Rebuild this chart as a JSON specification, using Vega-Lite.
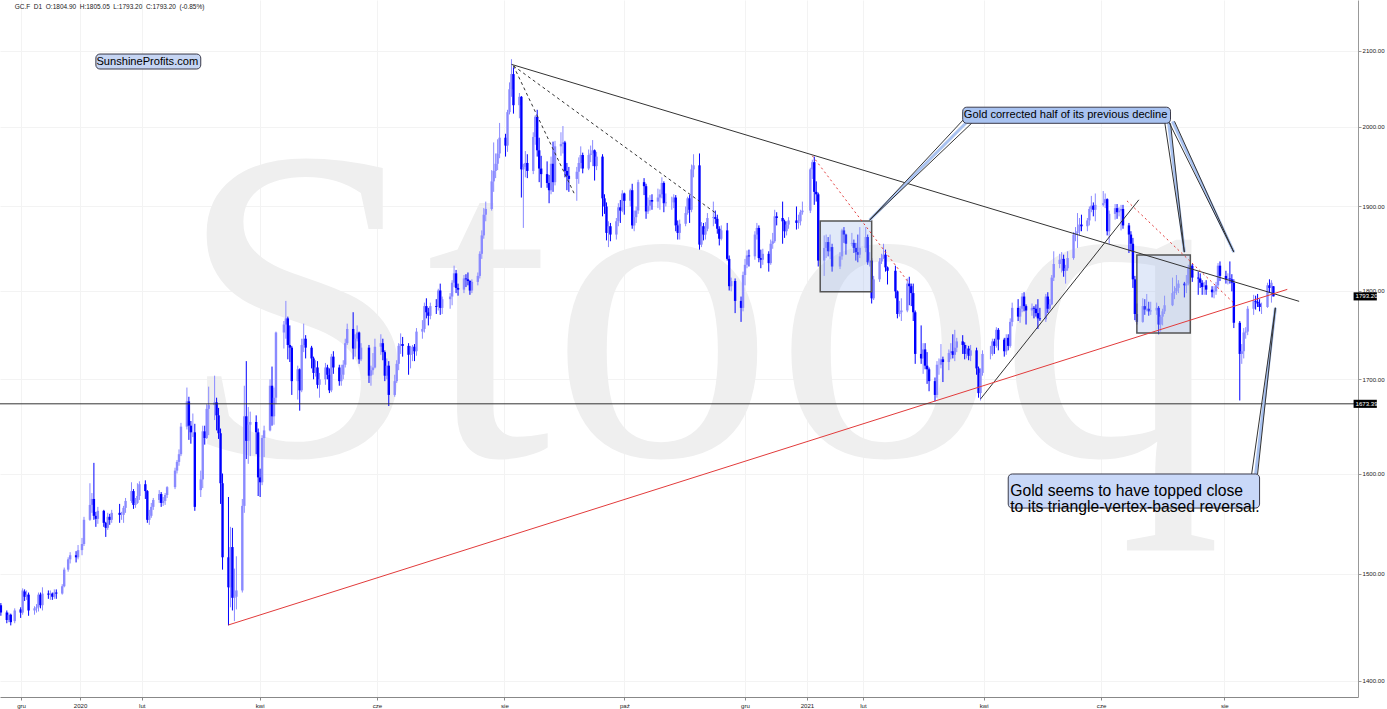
{
"$schema": "https://vega.github.io/schema/vega-lite/v6.json",
"width": 1358, "height": 697,
"autosize": {"type": "none"},
"padding": {"left": 0, "top": 0, "right": 29, "bottom": 12},
"background": "white",
"config": {"view": {"stroke": null}, "font": "Liberation Sans"},
"datasets": {
"candles": [
{"t":"2019-11-22","o":1470,"h":1472,"l":1460,"c":1463},
{"t":"2019-11-25","o":1463,"h":1465,"l":1453,"c":1456},
{"t":"2019-11-26","o":1456,"h":1463,"l":1454,"c":1461},
{"t":"2019-11-27","o":1461,"h":1462,"l":1451,"c":1454},
{"t":"2019-11-29","o":1455,"h":1467,"l":1453,"c":1465},
{"t":"2019-12-02","o":1466,"h":1468,"l":1458,"c":1463},
{"t":"2019-12-03","o":1463,"h":1486,"l":1461,"c":1484},
{"t":"2019-12-04","o":1483,"h":1485,"l":1474,"c":1478},
{"t":"2019-12-05","o":1478,"h":1484,"l":1475,"c":1480},
{"t":"2019-12-06","o":1480,"h":1482,"l":1460,"c":1465},
{"t":"2019-12-09","o":1465,"h":1469,"l":1461,"c":1467},
{"t":"2019-12-10","o":1467,"h":1471,"l":1463,"c":1468},
{"t":"2019-12-11","o":1468,"h":1482,"l":1464,"c":1480},
{"t":"2019-12-12","o":1480,"h":1482,"l":1467,"c":1470},
{"t":"2019-12-13","o":1470,"h":1487,"l":1465,"c":1481},
{"t":"2019-12-16","o":1481,"h":1484,"l":1476,"c":1480},
{"t":"2019-12-17","o":1480,"h":1484,"l":1475,"c":1481},
{"t":"2019-12-18","o":1481,"h":1482,"l":1475,"c":1478},
{"t":"2019-12-19","o":1478,"h":1485,"l":1476,"c":1482},
{"t":"2019-12-20","o":1482,"h":1485,"l":1476,"c":1481},
{"t":"2019-12-23","o":1481,"h":1490,"l":1480,"c":1488},
{"t":"2019-12-24","o":1488,"h":1506,"l":1487,"c":1504},
{"t":"2019-12-26","o":1504,"h":1516,"l":1502,"c":1514},
{"t":"2019-12-27","o":1514,"h":1521,"l":1510,"c":1518},
{"t":"2019-12-30","o":1518,"h":1522,"l":1511,"c":1516},
{"t":"2019-12-31","o":1516,"h":1528,"l":1514,"c":1523},
{"t":"2020-01-02","o":1523,"h":1535,"l":1518,"c":1529},
{"t":"2020-01-03","o":1529,"h":1556,"l":1527,"c":1553},
{"t":"2020-01-06","o":1553,"h":1590,"l":1552,"c":1568},
{"t":"2020-01-07","o":1568,"h":1580,"l":1560,"c":1574},
{"t":"2020-01-08","o":1574,"h":1611,"l":1553,"c":1557},
{"t":"2020-01-09","o":1557,"h":1561,"l":1546,"c":1554},
{"t":"2020-01-10","o":1554,"h":1566,"l":1549,"c":1562},
{"t":"2020-01-13","o":1562,"h":1563,"l":1546,"c":1550},
{"t":"2020-01-14","o":1550,"h":1551,"l":1536,"c":1545},
{"t":"2020-01-15","o":1545,"h":1560,"l":1543,"c":1556},
{"t":"2020-01-16","o":1556,"h":1559,"l":1548,"c":1553},
{"t":"2020-01-17","o":1553,"h":1563,"l":1550,"c":1560},
{"t":"2020-01-21","o":1560,"h":1569,"l":1550,"c":1558},
{"t":"2020-01-22","o":1558,"h":1561,"l":1553,"c":1558},
{"t":"2020-01-23","o":1558,"h":1567,"l":1550,"c":1565},
{"t":"2020-01-24","o":1565,"h":1575,"l":1560,"c":1572},
{"t":"2020-01-27","o":1572,"h":1591,"l":1570,"c":1582},
{"t":"2020-01-28","o":1582,"h":1584,"l":1564,"c":1568},
{"t":"2020-01-29","o":1568,"h":1575,"l":1565,"c":1570},
{"t":"2020-01-30","o":1570,"h":1590,"l":1569,"c":1577},
{"t":"2020-01-31","o":1577,"h":1592,"l":1573,"c":1589},
{"t":"2020-02-03","o":1589,"h":1593,"l":1574,"c":1582},
{"t":"2020-02-04","o":1582,"h":1583,"l":1550,"c":1553},
{"t":"2020-02-05","o":1553,"h":1563,"l":1548,"c":1557},
{"t":"2020-02-06","o":1557,"h":1570,"l":1555,"c":1566},
{"t":"2020-02-07","o":1566,"h":1575,"l":1563,"c":1573},
{"t":"2020-02-10","o":1573,"h":1583,"l":1570,"c":1579},
{"t":"2020-02-11","o":1579,"h":1581,"l":1566,"c":1570},
{"t":"2020-02-12","o":1570,"h":1576,"l":1567,"c":1572},
{"t":"2020-02-13","o":1572,"h":1580,"l":1568,"c":1578},
{"t":"2020-02-14","o":1578,"h":1587,"l":1575,"c":1586},
{"t":"2020-02-18","o":1586,"h":1606,"l":1584,"c":1603},
{"t":"2020-02-19","o":1603,"h":1614,"l":1600,"c":1612},
{"t":"2020-02-20","o":1612,"h":1625,"l":1608,"c":1620},
{"t":"2020-02-21","o":1620,"h":1653,"l":1618,"c":1649},
{"t":"2020-02-24","o":1649,"h":1691,"l":1646,"c":1676},
{"t":"2020-02-25","o":1676,"h":1681,"l":1635,"c":1650},
{"t":"2020-02-26","o":1650,"h":1655,"l":1631,"c":1643},
{"t":"2020-02-27","o":1643,"h":1663,"l":1638,"c":1643},
{"t":"2020-02-28","o":1643,"h":1652,"l":1562,"c":1566},
{"t":"2020-03-02","o":1583,"h":1603,"l":1576,"c":1594},
{"t":"2020-03-03","o":1594,"h":1650,"l":1585,"c":1644},
{"t":"2020-03-04","o":1644,"h":1650,"l":1630,"c":1637},
{"t":"2020-03-05","o":1637,"h":1673,"l":1636,"c":1668},
{"t":"2020-03-06","o":1668,"h":1692,"l":1640,"c":1672},
{"t":"2020-03-09","o":1672,"h":1704,"l":1656,"c":1675},
{"t":"2020-03-10","o":1675,"h":1680,"l":1645,"c":1661},
{"t":"2020-03-11","o":1661,"h":1669,"l":1636,"c":1642},
{"t":"2020-03-12","o":1642,"h":1647,"l":1569,"c":1590},
{"t":"2020-03-13","o":1590,"h":1600,"l":1504,"c":1516},
{"t":"2020-03-16","o":1516,"h":1576,"l":1451,"c":1487},
{"t":"2020-03-17","o":1487,"h":1546,"l":1468,"c":1526},
{"t":"2020-03-18","o":1526,"h":1545,"l":1465,"c":1477},
{"t":"2020-03-19","o":1477,"h":1505,"l":1455,"c":1478},
{"t":"2020-03-20","o":1478,"h":1517,"l":1466,"c":1484},
{"t":"2020-03-23","o":1484,"h":1574,"l":1482,"c":1567},
{"t":"2020-03-24","o":1567,"h":1693,"l":1560,"c":1660},
{"t":"2020-03-25","o":1660,"h":1720,"l":1615,"c":1634},
{"t":"2020-03-26","o":1634,"h":1670,"l":1610,"c":1651},
{"t":"2020-03-27","o":1651,"h":1665,"l":1618,"c":1654},
{"t":"2020-03-30","o":1654,"h":1661,"l":1620,"c":1643},
{"t":"2020-03-31","o":1643,"h":1647,"l":1577,"c":1596},
{"t":"2020-04-01","o":1596,"h":1605,"l":1576,"c":1591},
{"t":"2020-04-02","o":1591,"h":1640,"l":1588,"c":1637},
{"t":"2020-04-03","o":1637,"h":1650,"l":1617,"c":1645},
{"t":"2020-04-06","o":1645,"h":1700,"l":1644,"c":1693},
{"t":"2020-04-07","o":1693,"h":1714,"l":1650,"c":1660},
{"t":"2020-04-08","o":1660,"h":1691,"l":1651,"c":1680},
{"t":"2020-04-09","o":1680,"h":1753,"l":1673,"c":1752},
{"t":"2020-04-13","o":1752,"h":1765,"l":1734,"c":1761},
{"t":"2020-04-14","o":1761,"h":1788,"l":1745,"c":1768},
{"t":"2020-04-15","o":1768,"h":1770,"l":1722,"c":1738},
{"t":"2020-04-16","o":1738,"h":1760,"l":1719,"c":1735},
{"t":"2020-04-17","o":1735,"h":1737,"l":1683,"c":1698},
{"t":"2020-04-20","o":1698,"h":1715,"l":1678,"c":1711},
{"t":"2020-04-21","o":1711,"h":1712,"l":1666,"c":1688},
{"t":"2020-04-22","o":1688,"h":1745,"l":1686,"c":1738},
{"t":"2020-04-23","o":1738,"h":1762,"l":1730,"c":1745},
{"t":"2020-04-24","o":1745,"h":1749,"l":1723,"c":1735},
{"t":"2020-04-27","o":1735,"h":1737,"l":1712,"c":1723},
{"t":"2020-04-28","o":1723,"h":1725,"l":1700,"c":1707},
{"t":"2020-04-29","o":1707,"h":1721,"l":1703,"c":1713},
{"t":"2020-04-30","o":1713,"h":1720,"l":1690,"c":1694},
{"t":"2020-05-01","o":1694,"h":1707,"l":1680,"c":1700},
{"t":"2020-05-04","o":1700,"h":1718,"l":1694,"c":1713},
{"t":"2020-05-05","o":1713,"h":1716,"l":1700,"c":1705},
{"t":"2020-05-06","o":1705,"h":1712,"l":1685,"c":1688},
{"t":"2020-05-07","o":1688,"h":1728,"l":1686,"c":1725},
{"t":"2020-05-08","o":1725,"h":1731,"l":1706,"c":1713},
{"t":"2020-05-11","o":1713,"h":1716,"l":1693,"c":1698},
{"t":"2020-05-12","o":1698,"h":1716,"l":1693,"c":1705},
{"t":"2020-05-13","o":1705,"h":1721,"l":1700,"c":1716},
{"t":"2020-05-14","o":1716,"h":1745,"l":1713,"c":1740},
{"t":"2020-05-15","o":1740,"h":1762,"l":1738,"c":1756},
{"t":"2020-05-18","o":1756,"h":1775,"l":1722,"c":1734},
{"t":"2020-05-19","o":1734,"h":1750,"l":1725,"c":1745},
{"t":"2020-05-20","o":1745,"h":1760,"l":1742,"c":1752},
{"t":"2020-05-21","o":1752,"h":1753,"l":1717,"c":1722},
{"t":"2020-05-22","o":1722,"h":1740,"l":1720,"c":1735},
{"t":"2020-05-26","o":1735,"h":1738,"l":1696,"c":1704},
{"t":"2020-05-27","o":1704,"h":1715,"l":1693,"c":1710},
{"t":"2020-05-28","o":1710,"h":1729,"l":1705,"c":1713},
{"t":"2020-05-29","o":1713,"h":1745,"l":1712,"c":1736},
{"t":"2020-06-01","o":1736,"h":1750,"l":1727,"c":1740},
{"t":"2020-06-02","o":1740,"h":1745,"l":1721,"c":1730},
{"t":"2020-06-03","o":1730,"h":1732,"l":1698,"c":1704},
{"t":"2020-06-04","o":1704,"h":1723,"l":1700,"c":1715},
{"t":"2020-06-05","o":1715,"h":1720,"l":1671,"c":1683},
{"t":"2020-06-08","o":1683,"h":1705,"l":1681,"c":1698},
{"t":"2020-06-09","o":1698,"h":1721,"l":1696,"c":1717},
{"t":"2020-06-10","o":1717,"h":1740,"l":1710,"c":1737},
{"t":"2020-06-11","o":1737,"h":1751,"l":1728,"c":1739},
{"t":"2020-06-12","o":1739,"h":1747,"l":1725,"c":1737},
{"t":"2020-06-15","o":1737,"h":1740,"l":1705,"c":1727},
{"t":"2020-06-16","o":1727,"h":1737,"l":1712,"c":1728},
{"t":"2020-06-17","o":1728,"h":1738,"l":1720,"c":1736},
{"t":"2020-06-18","o":1736,"h":1739,"l":1720,"c":1731},
{"t":"2020-06-19","o":1731,"h":1757,"l":1726,"c":1753},
{"t":"2020-06-22","o":1753,"h":1766,"l":1745,"c":1756},
{"t":"2020-06-23","o":1756,"h":1786,"l":1752,"c":1782},
{"t":"2020-06-24","o":1782,"h":1791,"l":1768,"c":1775},
{"t":"2020-06-25","o":1775,"h":1780,"l":1760,"c":1771},
{"t":"2020-06-26","o":1771,"h":1786,"l":1767,"c":1782},
{"t":"2020-06-29","o":1782,"h":1790,"l":1773,"c":1781},
{"t":"2020-06-30","o":1781,"h":1802,"l":1777,"c":1800},
{"t":"2020-07-01","o":1800,"h":1808,"l":1772,"c":1780},
{"t":"2020-07-02","o":1780,"h":1793,"l":1773,"c":1790},
{"t":"2020-07-06","o":1790,"h":1797,"l":1779,"c":1793},
{"t":"2020-07-07","o":1793,"h":1812,"l":1783,"c":1809},
{"t":"2020-07-08","o":1809,"h":1829,"l":1804,"c":1820},
{"t":"2020-07-09","o":1820,"h":1824,"l":1797,"c":1803},
{"t":"2020-07-10","o":1803,"h":1808,"l":1794,"c":1801},
{"t":"2020-07-13","o":1801,"h":1818,"l":1797,"c":1814},
{"t":"2020-07-14","o":1814,"h":1819,"l":1804,"c":1813},
{"t":"2020-07-15","o":1813,"h":1821,"l":1806,"c":1811},
{"t":"2020-07-16","o":1811,"h":1812,"l":1795,"c":1800},
{"t":"2020-07-17","o":1800,"h":1813,"l":1797,"c":1810},
{"t":"2020-07-20","o":1810,"h":1821,"l":1806,"c":1817},
{"t":"2020-07-21","o":1817,"h":1846,"l":1814,"c":1843},
{"t":"2020-07-22","o":1843,"h":1871,"l":1837,"c":1865},
{"t":"2020-07-23","o":1865,"h":1898,"l":1861,"c":1890},
{"t":"2020-07-24","o":1890,"h":1906,"l":1882,"c":1897},
{"t":"2020-07-27","o":1897,"h":1945,"l":1895,"c":1931},
{"t":"2020-07-28","o":1931,"h":1980,"l":1918,"c":1944},
{"t":"2020-07-29","o":1944,"h":1966,"l":1935,"c":1953},
{"t":"2020-07-30","o":1953,"h":1984,"l":1945,"c":1966},
{"t":"2020-07-31","o":1966,"h":2005,"l":1960,"c":1986},
{"t":"2020-08-03","o":1986,"h":1991,"l":1962,"c":1976},
{"t":"2020-08-04","o":1976,"h":2022,"l":1968,"c":2019},
{"t":"2020-08-05","o":2019,"h":2058,"l":2016,"c":2049},
{"t":"2020-08-06","o":2049,"h":2089,"l":2039,"c":2069},
{"t":"2020-08-07","o":2069,"h":2078,"l":2017,"c":2028},
{"t":"2020-08-10","o":2028,"h":2044,"l":2011,"c":2039},
{"t":"2020-08-11","o":2039,"h":2040,"l":1911,"c":1946},
{"t":"2020-08-12","o":1946,"h":1953,"l":1874,"c":1949},
{"t":"2020-08-13","o":1949,"h":1969,"l":1936,"c":1954},
{"t":"2020-08-14","o":1954,"h":1965,"l":1935,"c":1944},
{"t":"2020-08-17","o":1944,"h":1993,"l":1940,"c":1987},
{"t":"2020-08-18","o":1987,"h":2015,"l":1977,"c":2013},
{"t":"2020-08-19","o":2013,"h":2022,"l":1962,"c":1970},
{"t":"2020-08-20","o":1970,"h":1986,"l":1930,"c":1947},
{"t":"2020-08-21","o":1947,"h":1963,"l":1923,"c":1940},
{"t":"2020-08-24","o":1940,"h":1956,"l":1923,"c":1929},
{"t":"2020-08-25","o":1929,"h":1939,"l":1904,"c":1920},
{"t":"2020-08-26","o":1920,"h":1962,"l":1915,"c":1953},
{"t":"2020-08-27","o":1953,"h":1981,"l":1918,"c":1930},
{"t":"2020-08-28","o":1930,"h":1982,"l":1926,"c":1975},
{"t":"2020-08-31","o":1975,"h":1993,"l":1963,"c":1978},
{"t":"2020-09-01","o":1978,"h":2001,"l":1966,"c":1980},
{"t":"2020-09-02","o":1980,"h":1982,"l":1936,"c":1944},
{"t":"2020-09-03","o":1944,"h":1954,"l":1920,"c":1938},
{"t":"2020-09-04","o":1938,"h":1949,"l":1918,"c":1934},
{"t":"2020-09-08","o":1934,"h":1949,"l":1907,"c":1943},
{"t":"2020-09-09","o":1943,"h":1961,"l":1928,"c":1954},
{"t":"2020-09-10","o":1954,"h":1975,"l":1947,"c":1964},
{"t":"2020-09-11","o":1964,"h":1967,"l":1941,"c":1947},
{"t":"2020-09-14","o":1947,"h":1971,"l":1945,"c":1964},
{"t":"2020-09-15","o":1964,"h":1976,"l":1955,"c":1966},
{"t":"2020-09-16","o":1966,"h":1983,"l":1950,"c":1970},
{"t":"2020-09-17","o":1970,"h":1971,"l":1932,"c":1950},
{"t":"2020-09-18","o":1950,"h":1968,"l":1945,"c":1962},
{"t":"2020-09-21","o":1962,"h":1965,"l":1888,"c":1910},
{"t":"2020-09-22","o":1910,"h":1915,"l":1891,"c":1900},
{"t":"2020-09-23","o":1900,"h":1905,"l":1859,"c":1868},
{"t":"2020-09-24","o":1868,"h":1882,"l":1851,"c":1876},
{"t":"2020-09-25","o":1876,"h":1880,"l":1858,"c":1866},
{"t":"2020-09-28","o":1866,"h":1886,"l":1860,"c":1882},
{"t":"2020-09-29","o":1882,"h":1904,"l":1876,"c":1899},
{"t":"2020-09-30","o":1899,"h":1908,"l":1880,"c":1895},
{"t":"2020-10-01","o":1895,"h":1920,"l":1893,"c":1916},
{"t":"2020-10-02","o":1916,"h":1917,"l":1890,"c":1907},
{"t":"2020-10-05","o":1907,"h":1922,"l":1900,"c":1920},
{"t":"2020-10-06","o":1920,"h":1928,"l":1873,"c":1877},
{"t":"2020-10-07","o":1877,"h":1895,"l":1870,"c":1887},
{"t":"2020-10-08","o":1887,"h":1900,"l":1880,"c":1895},
{"t":"2020-10-09","o":1895,"h":1933,"l":1891,"c":1930},
{"t":"2020-10-12","o":1930,"h":1935,"l":1914,"c":1925},
{"t":"2020-10-13","o":1925,"h":1928,"l":1885,"c":1894},
{"t":"2020-10-14","o":1894,"h":1911,"l":1891,"c":1901},
{"t":"2020-10-15","o":1901,"h":1914,"l":1895,"c":1908},
{"t":"2020-10-16","o":1908,"h":1915,"l":1896,"c":1906},
{"t":"2020-10-19","o":1906,"h":1922,"l":1898,"c":1911},
{"t":"2020-10-20","o":1911,"h":1921,"l":1896,"c":1915},
{"t":"2020-10-21","o":1915,"h":1936,"l":1910,"c":1929},
{"t":"2020-10-22","o":1929,"h":1931,"l":1893,"c":1904},
{"t":"2020-10-23","o":1904,"h":1916,"l":1900,"c":1905},
{"t":"2020-10-26","o":1905,"h":1912,"l":1896,"c":1905},
{"t":"2020-10-27","o":1905,"h":1915,"l":1898,"c":1911},
{"t":"2020-10-28","o":1911,"h":1914,"l":1870,"c":1877},
{"t":"2020-10-29","o":1877,"h":1883,"l":1860,"c":1868},
{"t":"2020-10-30","o":1868,"h":1884,"l":1860,"c":1879},
{"t":"2020-11-02","o":1879,"h":1900,"l":1876,"c":1892},
{"t":"2020-11-03","o":1892,"h":1912,"l":1890,"c":1910},
{"t":"2020-11-04","o":1910,"h":1914,"l":1880,"c":1896},
{"t":"2020-11-05","o":1896,"h":1952,"l":1893,"c":1946},
{"t":"2020-11-06","o":1946,"h":1965,"l":1936,"c":1951},
{"t":"2020-11-09","o":1951,"h":1966,"l":1848,"c":1854},
{"t":"2020-11-10","o":1854,"h":1881,"l":1851,"c":1876},
{"t":"2020-11-11","o":1876,"h":1880,"l":1859,"c":1866},
{"t":"2020-11-12","o":1866,"h":1881,"l":1860,"c":1873},
{"t":"2020-11-13","o":1873,"h":1892,"l":1870,"c":1886},
{"t":"2020-11-16","o":1886,"h":1906,"l":1876,"c":1887},
{"t":"2020-11-17","o":1887,"h":1895,"l":1879,"c":1885},
{"t":"2020-11-18","o":1885,"h":1890,"l":1867,"c":1873},
{"t":"2020-11-19","o":1873,"h":1876,"l":1853,"c":1861},
{"t":"2020-11-20","o":1861,"h":1877,"l":1859,"c":1871},
{"t":"2020-11-23","o":1871,"h":1880,"l":1835,"c":1837},
{"t":"2020-11-24","o":1837,"h":1841,"l":1800,"c":1805},
{"t":"2020-11-25","o":1805,"h":1815,"l":1799,"c":1811},
{"t":"2020-11-27","o":1811,"h":1814,"l":1774,"c":1788},
{"t":"2020-11-30","o":1788,"h":1793,"l":1764,"c":1780},
{"t":"2020-12-01","o":1780,"h":1822,"l":1776,"c":1818},
{"t":"2020-12-02","o":1818,"h":1837,"l":1806,"c":1830},
{"t":"2020-12-03","o":1830,"h":1847,"l":1826,"c":1841},
{"t":"2020-12-04","o":1841,"h":1848,"l":1828,"c":1840},
{"t":"2020-12-07","o":1840,"h":1870,"l":1836,"c":1866},
{"t":"2020-12-08","o":1866,"h":1880,"l":1860,"c":1874},
{"t":"2020-12-09","o":1874,"h":1877,"l":1833,"c":1838},
{"t":"2020-12-10","o":1838,"h":1848,"l":1826,"c":1836},
{"t":"2020-12-11","o":1836,"h":1849,"l":1830,"c":1843},
{"t":"2020-12-14","o":1843,"h":1846,"l":1822,"c":1832},
{"t":"2020-12-15","o":1832,"h":1860,"l":1830,"c":1855},
{"t":"2020-12-16","o":1855,"h":1868,"l":1849,"c":1858},
{"t":"2020-12-17","o":1858,"h":1896,"l":1856,"c":1888},
{"t":"2020-12-18","o":1888,"h":1893,"l":1877,"c":1886},
{"t":"2020-12-21","o":1886,"h":1906,"l":1855,"c":1882},
{"t":"2020-12-22","o":1882,"h":1884,"l":1862,"c":1870},
{"t":"2020-12-23","o":1870,"h":1882,"l":1865,"c":1878},
{"t":"2020-12-24","o":1878,"h":1887,"l":1873,"c":1883},
{"t":"2020-12-28","o":1883,"h":1900,"l":1872,"c":1880},
{"t":"2020-12-29","o":1880,"h":1890,"l":1873,"c":1882},
{"t":"2020-12-30","o":1882,"h":1896,"l":1877,"c":1893},
{"t":"2020-12-31","o":1893,"h":1906,"l":1890,"c":1895},
{"t":"2021-01-04","o":1895,"h":1948,"l":1892,"c":1946},
{"t":"2021-01-05","o":1946,"h":1958,"l":1934,"c":1955},
{"t":"2021-01-06","o":1955,"h":1962,"l":1902,"c":1918},
{"t":"2021-01-07","o":1918,"h":1931,"l":1906,"c":1915},
{"t":"2021-01-08","o":1915,"h":1917,"l":1828,"c":1835},
{"t":"2021-01-11","o":1835,"h":1865,"l":1817,"c":1850},
{"t":"2021-01-12","o":1850,"h":1866,"l":1838,"c":1857},
{"t":"2021-01-13","o":1857,"h":1863,"l":1840,"c":1846},
{"t":"2021-01-14","o":1846,"h":1866,"l":1837,"c":1851},
{"t":"2021-01-15","o":1851,"h":1855,"l":1822,"c":1828},
{"t":"2021-01-19","o":1828,"h":1845,"l":1825,"c":1840},
{"t":"2021-01-20","o":1840,"h":1873,"l":1836,"c":1871},
{"t":"2021-01-21","o":1871,"h":1875,"l":1856,"c":1866},
{"t":"2021-01-22","o":1866,"h":1867,"l":1842,"c":1855},
{"t":"2021-01-25","o":1855,"h":1868,"l":1852,"c":1856},
{"t":"2021-01-26","o":1856,"h":1860,"l":1844,"c":1850},
{"t":"2021-01-27","o":1850,"h":1856,"l":1835,"c":1845},
{"t":"2021-01-28","o":1845,"h":1866,"l":1833,"c":1842},
{"t":"2021-01-29","o":1842,"h":1875,"l":1838,"c":1850},
{"t":"2021-02-01","o":1850,"h":1875,"l":1845,"c":1863},
{"t":"2021-02-02","o":1863,"h":1866,"l":1830,"c":1833},
{"t":"2021-02-03","o":1833,"h":1845,"l":1828,"c":1835},
{"t":"2021-02-04","o":1835,"h":1838,"l":1785,"c":1791},
{"t":"2021-02-05","o":1791,"h":1817,"l":1789,"c":1813},
{"t":"2021-02-08","o":1813,"h":1838,"l":1810,"c":1834},
{"t":"2021-02-09","o":1834,"h":1843,"l":1831,"c":1838},
{"t":"2021-02-10","o":1838,"h":1855,"l":1837,"c":1842},
{"t":"2021-02-11","o":1842,"h":1848,"l":1822,"c":1827},
{"t":"2021-02-12","o":1827,"h":1828,"l":1807,"c":1823},
{"t":"2021-02-16","o":1823,"h":1829,"l":1791,"c":1799},
{"t":"2021-02-17","o":1799,"h":1800,"l":1768,"c":1773},
{"t":"2021-02-18","o":1773,"h":1788,"l":1770,"c":1775},
{"t":"2021-02-19","o":1775,"h":1791,"l":1765,"c":1777},
{"t":"2021-02-22","o":1777,"h":1814,"l":1775,"c":1808},
{"t":"2021-02-23","o":1808,"h":1816,"l":1783,"c":1805},
{"t":"2021-02-24","o":1805,"h":1808,"l":1782,"c":1797},
{"t":"2021-02-25","o":1797,"h":1808,"l":1765,"c":1775},
{"t":"2021-02-26","o":1775,"h":1777,"l":1717,"c":1728},
{"t":"2021-03-01","o":1728,"h":1760,"l":1717,"c":1723},
{"t":"2021-03-02","o":1723,"h":1740,"l":1706,"c":1733},
{"t":"2021-03-03","o":1733,"h":1740,"l":1711,"c":1715},
{"t":"2021-03-04","o":1715,"h":1730,"l":1695,"c":1711},
{"t":"2021-03-05","o":1711,"h":1713,"l":1687,"c":1698},
{"t":"2021-03-08","o":1698,"h":1702,"l":1676,"c":1683},
{"t":"2021-03-09","o":1683,"h":1720,"l":1680,"c":1716},
{"t":"2021-03-10","o":1716,"h":1723,"l":1705,"c":1716},
{"t":"2021-03-11","o":1716,"h":1739,"l":1712,"c":1722},
{"t":"2021-03-12","o":1722,"h":1725,"l":1697,"c":1719},
{"t":"2021-03-15","o":1719,"h":1733,"l":1710,"c":1729},
{"t":"2021-03-16","o":1729,"h":1740,"l":1722,"c":1731},
{"t":"2021-03-17","o":1731,"h":1750,"l":1723,"c":1727},
{"t":"2021-03-18","o":1727,"h":1755,"l":1720,"c":1735},
{"t":"2021-03-19","o":1735,"h":1746,"l":1730,"c":1742},
{"t":"2021-03-22","o":1742,"h":1749,"l":1728,"c":1738},
{"t":"2021-03-23","o":1738,"h":1741,"l":1722,"c":1728},
{"t":"2021-03-24","o":1728,"h":1738,"l":1723,"c":1734},
{"t":"2021-03-25","o":1734,"h":1737,"l":1721,"c":1726},
{"t":"2021-03-26","o":1726,"h":1738,"l":1720,"c":1732},
{"t":"2021-03-29","o":1732,"h":1735,"l":1705,"c":1712},
{"t":"2021-03-30","o":1712,"h":1714,"l":1680,"c":1685},
{"t":"2021-03-31","o":1685,"h":1712,"l":1677,"c":1707},
{"t":"2021-04-01","o":1707,"h":1732,"l":1704,"c":1728},
{"t":"2021-04-05","o":1728,"h":1737,"l":1722,"c":1728},
{"t":"2021-04-06","o":1728,"h":1745,"l":1726,"c":1742},
{"t":"2021-04-07","o":1742,"h":1745,"l":1728,"c":1737},
{"t":"2021-04-08","o":1737,"h":1758,"l":1735,"c":1755},
{"t":"2021-04-09","o":1755,"h":1757,"l":1732,"c":1744},
{"t":"2021-04-12","o":1744,"h":1746,"l":1725,"c":1731},
{"t":"2021-04-13","o":1731,"h":1750,"l":1727,"c":1746},
{"t":"2021-04-14","o":1746,"h":1750,"l":1732,"c":1737},
{"t":"2021-04-15","o":1737,"h":1768,"l":1735,"c":1764},
{"t":"2021-04-16","o":1764,"h":1786,"l":1759,"c":1780},
{"t":"2021-04-19","o":1780,"h":1790,"l":1765,"c":1770},
{"t":"2021-04-20","o":1770,"h":1782,"l":1763,"c":1779},
{"t":"2021-04-21","o":1779,"h":1797,"l":1775,"c":1793},
{"t":"2021-04-22","o":1793,"h":1798,"l":1776,"c":1782},
{"t":"2021-04-23","o":1782,"h":1784,"l":1761,"c":1777},
{"t":"2021-04-26","o":1777,"h":1785,"l":1771,"c":1780},
{"t":"2021-04-27","o":1780,"h":1782,"l":1768,"c":1779},
{"t":"2021-04-28","o":1779,"h":1784,"l":1770,"c":1774},
{"t":"2021-04-29","o":1774,"h":1790,"l":1756,"c":1768},
{"t":"2021-04-30","o":1768,"h":1780,"l":1765,"c":1767},
{"t":"2021-05-03","o":1767,"h":1796,"l":1764,"c":1793},
{"t":"2021-05-04","o":1793,"h":1798,"l":1774,"c":1779},
{"t":"2021-05-05","o":1779,"h":1790,"l":1777,"c":1784},
{"t":"2021-05-06","o":1784,"h":1818,"l":1783,"c":1815},
{"t":"2021-05-07","o":1815,"h":1846,"l":1811,"c":1831},
{"t":"2021-05-10","o":1831,"h":1843,"l":1826,"c":1836},
{"t":"2021-05-11","o":1836,"h":1845,"l":1821,"c":1837},
{"t":"2021-05-12","o":1837,"h":1842,"l":1816,"c":1823},
{"t":"2021-05-13","o":1823,"h":1830,"l":1808,"c":1826},
{"t":"2021-05-14","o":1826,"h":1846,"l":1823,"c":1838},
{"t":"2021-05-17","o":1838,"h":1869,"l":1836,"c":1866},
{"t":"2021-05-18","o":1866,"h":1875,"l":1858,"c":1868},
{"t":"2021-05-19","o":1868,"h":1892,"l":1850,"c":1870},
{"t":"2021-05-20","o":1870,"h":1886,"l":1865,"c":1878},
{"t":"2021-05-21","o":1878,"h":1890,"l":1870,"c":1876},
{"t":"2021-05-24","o":1876,"h":1886,"l":1870,"c":1883},
{"t":"2021-05-25","o":1883,"h":1900,"l":1877,"c":1897},
{"t":"2021-05-26","o":1897,"h":1913,"l":1893,"c":1901},
{"t":"2021-05-27","o":1901,"h":1905,"l":1888,"c":1896},
{"t":"2021-05-28","o":1896,"h":1916,"l":1882,"c":1902},
{"t":"2021-06-01","o":1902,"h":1919,"l":1900,"c":1904},
{"t":"2021-06-02","o":1904,"h":1916,"l":1898,"c":1909},
{"t":"2021-06-03","o":1909,"h":1910,"l":1865,"c":1870},
{"t":"2021-06-04","o":1870,"h":1895,"l":1855,"c":1891},
{"t":"2021-06-07","o":1891,"h":1903,"l":1884,"c":1898},
{"t":"2021-06-08","o":1898,"h":1903,"l":1885,"c":1893},
{"t":"2021-06-09","o":1893,"h":1899,"l":1888,"c":1895},
{"t":"2021-06-10","o":1895,"h":1902,"l":1871,"c":1897},
{"t":"2021-06-11","o":1897,"h":1902,"l":1873,"c":1877},
{"t":"2021-06-14","o":1877,"h":1880,"l":1844,"c":1866},
{"t":"2021-06-15","o":1866,"h":1870,"l":1846,"c":1855},
{"t":"2021-06-16","o":1855,"h":1862,"l":1803,"c":1813},
{"t":"2021-06-17","o":1813,"h":1817,"l":1766,"c":1773},
{"t":"2021-06-18","o":1773,"h":1785,"l":1761,"c":1764},
{"t":"2021-06-21","o":1764,"h":1791,"l":1763,"c":1782},
{"t":"2021-06-22","o":1782,"h":1790,"l":1772,"c":1778},
{"t":"2021-06-23","o":1778,"h":1796,"l":1776,"c":1779},
{"t":"2021-06-24","o":1779,"h":1787,"l":1771,"c":1776},
{"t":"2021-06-25","o":1776,"h":1787,"l":1772,"c":1777},
{"t":"2021-06-28","o":1777,"h":1786,"l":1772,"c":1780},
{"t":"2021-06-29","o":1780,"h":1782,"l":1750,"c":1761},
{"t":"2021-06-30","o":1761,"h":1772,"l":1753,"c":1770},
{"t":"2021-07-01","o":1770,"h":1779,"l":1760,"c":1776},
{"t":"2021-07-02","o":1776,"h":1794,"l":1773,"c":1783},
{"t":"2021-07-06","o":1783,"h":1815,"l":1782,"c":1797},
{"t":"2021-07-07","o":1797,"h":1805,"l":1790,"c":1799},
{"t":"2021-07-08","o":1799,"h":1818,"l":1795,"c":1803},
{"t":"2021-07-09","o":1803,"h":1812,"l":1797,"c":1808},
{"t":"2021-07-12","o":1808,"h":1810,"l":1792,"c":1806},
{"t":"2021-07-13","o":1806,"h":1818,"l":1797,"c":1808},
{"t":"2021-07-14","o":1808,"h":1830,"l":1806,"c":1826},
{"t":"2021-07-15","o":1826,"h":1834,"l":1819,"c":1829},
{"t":"2021-07-16","o":1829,"h":1831,"l":1810,"c":1815},
{"t":"2021-07-19","o":1815,"h":1822,"l":1795,"c":1814},
{"t":"2021-07-20","o":1814,"h":1820,"l":1803,"c":1809},
{"t":"2021-07-21","o":1809,"h":1812,"l":1795,"c":1804},
{"t":"2021-07-22","o":1804,"h":1810,"l":1795,"c":1806},
{"t":"2021-07-23","o":1806,"h":1812,"l":1795,"c":1801},
{"t":"2021-07-26","o":1801,"h":1805,"l":1792,"c":1798},
{"t":"2021-07-27","o":1798,"h":1805,"l":1791,"c":1799},
{"t":"2021-07-28","o":1799,"h":1810,"l":1795,"c":1806},
{"t":"2021-07-29","o":1806,"h":1832,"l":1803,"c":1829},
{"t":"2021-07-30","o":1829,"h":1834,"l":1811,"c":1817},
{"t":"2021-08-02","o":1817,"h":1823,"l":1808,"c":1813},
{"t":"2021-08-03","o":1813,"h":1820,"l":1807,"c":1814},
{"t":"2021-08-04","o":1814,"h":1834,"l":1808,"c":1813},
{"t":"2021-08-05","o":1813,"h":1819,"l":1799,"c":1809},
{"t":"2021-08-06","o":1809,"h":1813,"l":1757,"c":1763},
{"t":"2021-08-09","o":1763,"h":1765,"l":1677,"c":1728},
{"t":"2021-08-10","o":1728,"h":1739,"l":1717,"c":1731},
{"t":"2021-08-11","o":1731,"h":1757,"l":1723,"c":1752},
{"t":"2021-08-12","o":1752,"h":1758,"l":1745,"c":1753},
{"t":"2021-08-13","o":1753,"h":1782,"l":1749,"c":1779},
{"t":"2021-08-16","o":1779,"h":1795,"l":1772,"c":1788},
{"t":"2021-08-17","o":1788,"h":1794,"l":1778,"c":1787},
{"t":"2021-08-18","o":1787,"h":1796,"l":1781,"c":1785},
{"t":"2021-08-19","o":1785,"h":1790,"l":1776,"c":1781},
{"t":"2021-08-20","o":1781,"h":1786,"l":1773,"c":1781},
{"t":"2021-08-23","o":1781,"h":1809,"l":1780,"c":1806},
{"t":"2021-08-24","o":1806,"h":1813,"l":1797,"c":1803},
{"t":"2021-08-25","o":1803,"h":1812,"l":1786,"c":1809},
{"t":"2021-08-26","o":1804.9,"h":1805.05,"l":1793.2,"c":1793.2}
],
"lines": [
{"g":"bs","x1":"2020-08-06","p1":2082,"x2":"2021-09-08","p2":1787.5},
{"g":"bd","x1":"2020-08-07","p1":2080,"x2":"2020-09-07","p2":1914.4},
{"g":"bd","x1":"2020-08-07","p1":2080,"x2":"2020-11-17","p2":1892.3},
{"g":"rs","x1":"2020-03-16","p1":1451.4,"x2":"2021-09-02","p2":1801.3},
{"g":"bs","x1":"2021-03-31","p1":1678.6,"x2":"2021-06-19","p2":1908.2},
{"g":"rd","x1":"2021-01-05","p1":1963.1,"x2":"2021-02-23","p2":1808.2},
{"g":"rd","x1":"2021-06-13","p1":1906.9,"x2":"2021-08-06","p2":1785.5}
],
"zones": [
{"x1":"2021-01-09","x2":"2021-02-04","p1":1798.6,"p2":1882.3},
{"x1":"2021-06-18","x2":"2021-07-15","p1":1751.4,"p2":1841.5}
],
"pointers": [
{"part":"fill","x1":"2021-03-25","p1":2008.4,"x2":"2021-02-03","p2":1883.5},
{"part":"fill","x1":"2021-07-04","p1":2005.8,"x2":"2021-07-12","p2":1845.0},
{"part":"fill","x1":"2021-07-06","p1":2007.1,"x2":"2021-08-06","p2":1845.0},
{"part":"fill","x1":"2021-08-17","p1":1599.5,"x2":"2021-08-27","p2":1780.1},
{"part":"edge","x1":"2021-03-23","p1":2011.0,"x2":"2021-02-03","p2":1883.5},
{"part":"edge","x1":"2021-03-27","p1":2005.8,"x2":"2021-02-03","p2":1883.5},
{"part":"edge","x1":"2021-07-02","p1":2007.1,"x2":"2021-07-12","p2":1845.0},
{"part":"edge","x1":"2021-07-05","p1":2004.5,"x2":"2021-07-12","p2":1845.0},
{"part":"edge","x1":"2021-07-04","p1":2007.1,"x2":"2021-08-06","p2":1845.0},
{"part":"edge","x1":"2021-07-07","p1":2007.1,"x2":"2021-08-06","p2":1845.0},
{"part":"edge","x1":"2021-08-15","p1":1599.5,"x2":"2021-08-27","p2":1780.1},
{"part":"edge","x1":"2021-08-18","p1":1599.5,"x2":"2021-08-27","p2":1780.1}
],
"boxes": [
{"id":"site","x1":"2020-01-09","x2":"2020-03-02","p1":2075.8,"p2":2095.9},
{"id":"half","x1":"2021-03-22","x2":"2021-07-05","p1":2004.5,"p2":2025.4},
{"id":"top","x1":"2021-04-14","x2":"2021-08-19","p1":1564.8,"p2":1599.5}
],
"labels": [
{"id":"site","t":"2020-02-04","p":2085.8,"txt":"SunshineProfits.com"},
{"id":"half","t":"2021-05-13","p":2014.9,"txt":"Gold corrected half of its previous decline"}
],
"bigLabel": [
{"t":"2021-04-15","p":1582.0,"txt":"Gold seems to have topped close\nto its triangle-vertex-based reversal."}
],
"priceTags": [
{"p":1793.2,"lab":"1793.20"},
{"p":1673.39,"lab":"1673.39"}
]
},
"layer": [
{
"data": {"values": [{"w": "Stooq"}]},
"mark": {"type": "text", "font": "Liberation Serif", "fontSize": 448, "align": "center", "baseline": "alphabetic", "color": "#efefef"},
"encoding": {
"text": {"field": "w"},
"x": {"datum": {"year": 2020, "month": 11, "date": 9}, "type": "temporal",
"scale": {"domain": [{"year": 2019, "month": 11, "date": 24, "hours": 2}, {"year": 2021, "month": 10, "date": 5, "hours": 5}], "nice": false},
"axis": {"title": null, "grid": true, "gridColor": "#f3f3f3", "tickSize": 3, "labelFontSize": 6.1, "labelColor": "#222", "domainColor": "#888", "tickColor": "#888", "labelPadding": 2, "labelOverlap": false, "labelFlush": false,
"values": [{"year":2019,"month":12,"date":2,"hours":5},{"year":2020,"month":1,"date":1},{"year":2020,"month":2,"date":1,"hours":5},{"year":2020,"month":3,"date":31,"hours":19},{"year":2020,"month":5,"date":30,"hours":1},{"year":2020,"month":8,"date":2,"hours":10},{"year":2020,"month":10,"date":2},{"year":2020,"month":12,"date":2},{"year":2021,"month":1,"date":2,"hours":7},{"year":2021,"month":1,"date":30,"hours":14},{"year":2021,"month":4,"date":1,"hours":14},{"year":2021,"month":5,"date":30,"hours":22},{"year":2021,"month":8,"date":1,"hours":5}],
"labelExpr": "month(time(datum.value) + 345600000) == 0 ? '' + year(time(datum.value) + 345600000) : ['sty','lut','mar','kwi','maj','cze','lip','sie','wrz','paź','lis','gru'][month(time(datum.value) + 345600000)]"}},
"y": {"datum": 1619, "type": "quantitative",
"scale": {"type": "log", "domain": [1390.1, 2163.1], "nice": false},
"axis": {"orient": "right", "title": null, "grid": true, "gridColor": "#f3f3f3", "format": ".2f", "values": [1400, 1500, 1600, 1700, 1800, 1900, 2000, 2100], "tickSize": 3, "labelFontSize": 6.1, "labelColor": "#222", "domainColor": "#999", "tickColor": "#999", "labelPadding": 1, "labelFlush": false}}
}
},
{
"data": {"name": "candles"},
"mark": {"type": "rule", "strokeWidth": 1},
"encoding": {
"x": {"field": "t", "type": "temporal"},
"y": {"field": "l", "type": "quantitative"},
"y2": {"field": "h"},
"color": {"condition": {"test": "datum.c < datum.o", "value": "#0000ff"}, "value": "#8a8aff"}
}
},
{
"data": {"name": "candles"},
"mark": {"type": "bar"},
"encoding": {
"x": {"field": "t", "type": "temporal"},
"y": {"field": "o", "type": "quantitative"},
"y2": {"field": "c"},
"size": {"value": 2.4},
"color": {"condition": {"test": "datum.c < datum.o", "value": "#0000ff"}, "value": "#8a8aff"}
}
},
{
"data": {"name": "zones"},
"mark": {"type": "rect", "fill": "#9db6ea", "fillOpacity": 0.3, "stroke": "#555", "strokeWidth": 1.5},
"encoding": {
"x": {"field": "x1", "type": "temporal"}, "x2": {"field": "x2"},
"y": {"field": "p1", "type": "quantitative"}, "y2": {"field": "p2"}
}
},
{
"data": {"name": "lines"},
"transform": [{"filter": "datum.g == 'bs'"}],
"mark": {"type": "rule", "color": "#333", "strokeWidth": 1},
"encoding": {
"x": {"field": "x1", "type": "temporal"}, "x2": {"field": "x2"},
"y": {"field": "p1", "type": "quantitative"}, "y2": {"field": "p2"}
}
},
{
"data": {"name": "lines"},
"transform": [{"filter": "datum.g == 'bd'"}],
"mark": {"type": "rule", "color": "#333", "strokeWidth": 1, "strokeDash": [3, 3]},
"encoding": {
"x": {"field": "x1", "type": "temporal"}, "x2": {"field": "x2"},
"y": {"field": "p1", "type": "quantitative"}, "y2": {"field": "p2"}
}
},
{
"data": {"name": "lines"},
"transform": [{"filter": "datum.g == 'rs'"}],
"mark": {"type": "rule", "color": "#e23b3b", "strokeWidth": 1},
"encoding": {
"x": {"field": "x1", "type": "temporal"}, "x2": {"field": "x2"},
"y": {"field": "p1", "type": "quantitative"}, "y2": {"field": "p2"}
}
},
{
"data": {"name": "lines"},
"transform": [{"filter": "datum.g == 'rd'"}],
"mark": {"type": "rule", "color": "#e23b3b", "strokeWidth": 1, "strokeDash": [2, 3]},
"encoding": {
"x": {"field": "x1", "type": "temporal"}, "x2": {"field": "x2"},
"y": {"field": "p1", "type": "quantitative"}, "y2": {"field": "p2"}
}
},
{
"data": {"values": [{"level": 1673.39}]},
"mark": {"type": "rule", "color": "#333", "strokeWidth": 1},
"encoding": {"y": {"field": "level", "type": "quantitative"}}
},
{
"data": {"name": "pointers"},
"transform": [{"filter": "datum.part == 'fill'"}],
"mark": {"type": "rule", "color": "#a9c2f0", "strokeWidth": 3},
"encoding": {
"x": {"field": "x1", "type": "temporal"}, "x2": {"field": "x2"},
"y": {"field": "p1", "type": "quantitative"}, "y2": {"field": "p2"}
}
},
{
"data": {"name": "pointers"},
"transform": [{"filter": "datum.part == 'edge'"}],
"mark": {"type": "rule", "color": "#333", "strokeWidth": 1},
"encoding": {
"x": {"field": "x1", "type": "temporal"}, "x2": {"field": "x2"},
"y": {"field": "p1", "type": "quantitative"}, "y2": {"field": "p2"}
}
},
{
"data": {"name": "boxes"},
"mark": {"type": "rect", "stroke": "#3a3a4a", "strokeWidth": 1, "cornerRadius": 4},
"encoding": {
"x": {"field": "x1", "type": "temporal"}, "x2": {"field": "x2"},
"y": {"field": "p1", "type": "quantitative"}, "y2": {"field": "p2"},
"fill": {"field": "id", "type": "nominal", "legend": null, "scale": {"domain": ["site", "half", "top"], "range": ["#c6d5f3", "#a9c3f1", "#c9d8f8"]}}
}
},
{
"data": {"name": "labels"},
"mark": {"type": "text", "fontSize": 11.1, "align": "center", "baseline": "middle", "color": "#000", "font": "Liberation Sans"},
"encoding": {
"x": {"field": "t", "type": "temporal"},
"y": {"field": "p", "type": "quantitative"},
"text": {"field": "txt"}
}
},
{
"data": {"name": "bigLabel"},
"mark": {"type": "text", "fontSize": 15.7, "lineHeight": 15.7, "lineBreak": "\n", "align": "left", "baseline": "middle", "color": "#000", "font": "Liberation Sans"},
"encoding": {
"x": {"field": "t", "type": "temporal"},
"y": {"field": "p", "type": "quantitative"},
"text": {"field": "txt"}
}
},
{
"data": {"name": "priceTags"},
"mark": {"type": "bar", "color": "#000"},
"encoding": {
"x": {"datum": {"year": 2021, "month": 10, "date": 5, "hours": 12}, "type": "temporal"},
"x2": {"datum": {"year": 2021, "month": 10, "date": 17, "hours": 6}},
"y": {"field": "p", "type": "quantitative"},
"size": {"value": 8.1}
}
},
{
"data": {"name": "priceTags"},
"mark": {"type": "text", "fontSize": 6.1, "align": "left", "baseline": "middle", "color": "#fff", "dx": 1},
"encoding": {
"x": {"datum": {"year": 2021, "month": 10, "date": 6}, "type": "temporal"},
"y": {"field": "p", "type": "quantitative"},
"text": {"field": "lab"}
}
},
{
"data": {"values": [{"hdr": "GC.F\u00a0\u00a0D1\u00a0\u00a0O:1804.90\u00a0\u00a0H:1805.05\u00a0\u00a0L:1793.20\u00a0\u00a0C:1793.20\u00a0\u00a0(-0.85%)"}]},
"mark": {"type": "text", "fontSize": 6.5, "align": "left", "baseline": "middle", "color": "#222"},
"encoding": {
"x": {"datum": {"year": 2019, "month": 11, "date": 29}, "type": "temporal"},
"y": {"datum": 2160, "type": "quantitative"},
"text": {"field": "hdr"}
}
}
]
}
